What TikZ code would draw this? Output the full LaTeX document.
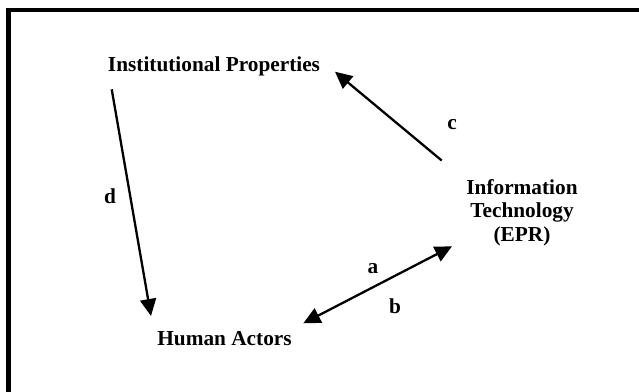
\documentclass[tikz,border=0pt]{standalone}
\usepackage{fontspec}
\setmainfont{Liberation Serif}
\usetikzlibrary{arrows.meta}
\begin{document}
\begin{tikzpicture}[x=1pt,y=-1pt,
  lbl/.style={font=\fontsize{21.3}{23.8}\selectfont\bfseries, inner sep=0pt, anchor=base},
  conn/.style={line width=2.3pt, -{Triangle[length=17pt,width=16pt]}},
  conn2/.style={line width=2.3pt, {Triangle[length=17pt,width=16pt]}-{Triangle[length=17pt,width=16pt]}}]
\useasboundingbox (0,0) rectangle (639,391);
\clip (0,0) rectangle (639,391);
\draw[line width=4.5pt] (660,410) -- (8.5,410) -- (8.5,10) -- (660,10);
\node[lbl] (inst) at (214,71.7) {Institutional Properties};
\node[lbl] (human) at (224.5,345) {Human Actors};
\node[lbl, align=center] (it) at (522,241.7) {Information\\Technology\\(EPR)};
\coordinate (cS) at (441.7,160.5);
\coordinate (cE) at (335,71.7);
\coordinate (dS) at (111.7,89.3);
\coordinate (dE) at (151,316);
\coordinate (abS) at (303.3,323.3);
\coordinate (abE) at (452,246.3);
\draw[conn] (cS) -- (cE);
\draw[conn] (dS) -- (dE);
\draw[conn2] (abS) -- (abE);
\node[lbl] (lc) at (452,129) {c};
\node[lbl] (ld) at (110,203) {d};
\node[lbl] (la) at (373,273) {a};
\node[lbl] (lb) at (395,313) {b};
\end{tikzpicture}
\end{document}
